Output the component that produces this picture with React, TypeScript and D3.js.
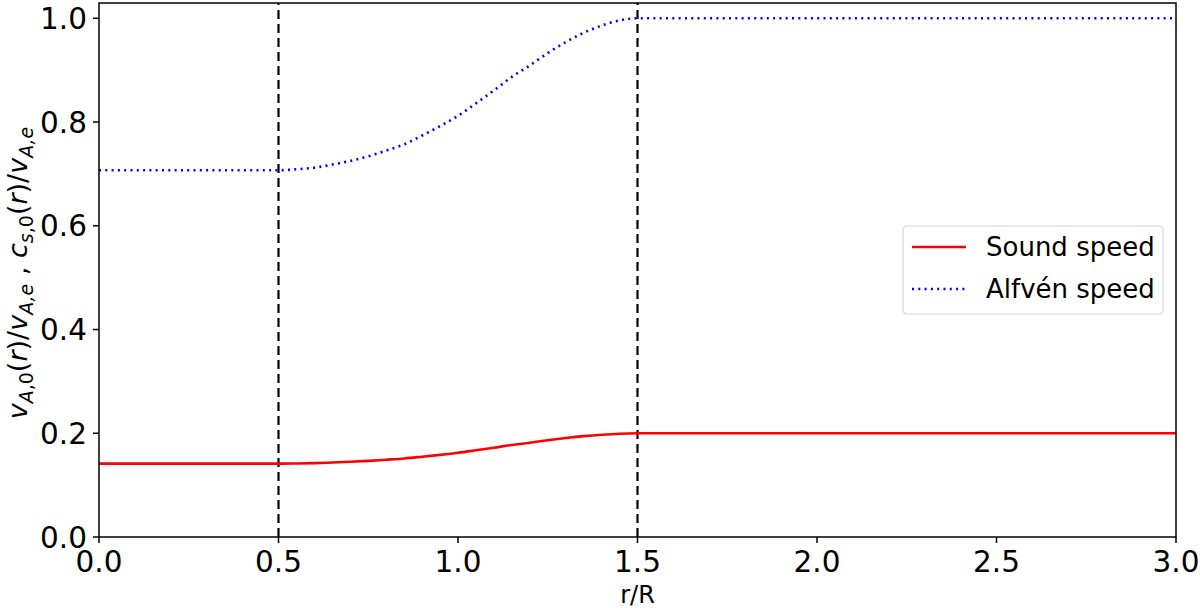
import React from "react";
import * as d3 from "d3";

const W = 1200;
const H = 608;
const margin = { top: 3, right: 24, bottom: 71, left: 99 };

// r/R sample positions and the two profiles
const rValues = [0, 0.5, 0.55, 0.6, 0.65, 0.7, 0.75, 0.8, 0.85, 0.9, 0.95, 1.0, 1.05, 1.1, 1.15, 1.2, 1.25, 1.3, 1.35, 1.4, 1.45, 1.5, 3.0];
const alfvenSpeed = [0.707, 0.707, 0.709, 0.712, 0.718, 0.725, 0.734, 0.745, 0.757, 0.774, 0.792, 0.812, 0.836, 0.861, 0.887, 0.909, 0.933, 0.954, 0.972, 0.986, 0.996, 1.0, 1.0];
const soundSpeed = [0.1414, 0.1414, 0.1418, 0.1424, 0.1436, 0.145, 0.1468, 0.149, 0.1514, 0.1548, 0.1584, 0.1624, 0.1672, 0.1722, 0.1774, 0.1818, 0.1866, 0.1908, 0.1944, 0.1972, 0.1992, 0.2, 0.2];

const boundaries = [0.5, 1.5];
const xTicks = [0, 0.5, 1, 1.5, 2, 2.5, 3];
const yTicks = [0, 0.2, 0.4, 0.6, 0.8, 1.0];

const legendItems = [
  { label: "Sound speed", color: "red", dash: null as string | null },
  { label: "Alfvén speed", color: "blue", dash: "2,4.3" },
];

const font = "'DejaVu Sans', sans-serif";

export default function App() {
  const xScale = d3.scaleLinear().domain([0, 3]).range([margin.left, W - margin.right]);
  const yScale = d3.scaleLinear().domain([0, 1.0295]).range([H - margin.bottom, margin.top]);

  const line = d3
    .line<number>()
    .x((_, i) => xScale(rValues[i]))
    .y((d) => yScale(d))
    .curve(d3.curveMonotoneX);

  const x0 = xScale(0);
  const x1 = xScale(3);
  const y0 = yScale(0);
  const y1 = yScale(1.0295);

  const sub = { fontSize: 19, baselineShift: "-6px" } as const;

  return (
    <svg width={W} height={H} style={{ position: "absolute", left: 0, top: 0 }} fontFamily={font}>
      <rect width={W} height={H} fill="white" />

      {boundaries.map((b) => (
        <line key={b} x1={xScale(b)} x2={xScale(b)} y1={y0} y2={y1} stroke="black" strokeWidth={2.2} strokeDasharray="9,5" />
      ))}

      <path d={line(soundSpeed) || ""} fill="none" stroke="red" strokeWidth={2.6} />
      <path d={line(alfvenSpeed) || ""} fill="none" stroke="blue" strokeWidth={2.6} strokeDasharray="2,4.3" />

      {/* frame */}
      <rect x={x0} y={y1} width={x1 - x0} height={y0 - y1} fill="none" stroke="black" strokeWidth={1.5} />

      {xTicks.map((t) => (
        <g key={t} transform={`translate(${xScale(t)},${y0})`}>
          <line y2={6} stroke="black" strokeWidth={1.5} />
          <text y={35} textAnchor="middle" fontSize={29.5}>{t.toFixed(1)}</text>
        </g>
      ))}
      {yTicks.map((t) => (
        <g key={t} transform={`translate(${x0},${yScale(t)})`}>
          <line x2={-6} stroke="black" strokeWidth={1.5} />
          <text x={-12} dy="0.36em" textAnchor="end" fontSize={29.5}>{t.toFixed(1)}</text>
        </g>
      ))}

      <text x={(x0 + x1) / 2} y={603} textAnchor="middle" fontSize={24}>r/R</text>

      <text transform={`translate(27,${(y0 + y1) / 2 + 3}) rotate(-90)`} textAnchor="middle" fontSize={27}>
        <tspan fontStyle="italic">v</tspan>
        <tspan {...sub} fontStyle="italic">A</tspan>
        <tspan {...sub}>,0</tspan>
        <tspan>(</tspan>
        <tspan fontStyle="italic">r</tspan>
        <tspan>)/</tspan>
        <tspan fontStyle="italic">v</tspan>
        <tspan {...sub} fontStyle="italic">A,e</tspan>
        <tspan> , </tspan>
        <tspan fontStyle="italic">c</tspan>
        <tspan {...sub} fontStyle="italic">s</tspan>
        <tspan {...sub}>,0</tspan>
        <tspan>(</tspan>
        <tspan fontStyle="italic">r</tspan>
        <tspan>)/</tspan>
        <tspan fontStyle="italic">v</tspan>
        <tspan {...sub} fontStyle="italic">A,e</tspan>
      </text>

      <g transform="translate(903,226)">
        <rect width={260} height={88} rx={4} fill="white" stroke="#d6d6d6" strokeWidth={1.2} />
        {legendItems.map((d, i) => (
          <g key={d.label} transform={`translate(0,${21 + i * 42})`}>
            <line x1={9} x2={63} stroke={d.color} strokeWidth={2.6} strokeDasharray={d.dash || undefined} />
            <text x={83} dy="0.36em" fontSize={26}>{d.label}</text>
          </g>
        ))}
      </g>
    </svg>
  );
}
